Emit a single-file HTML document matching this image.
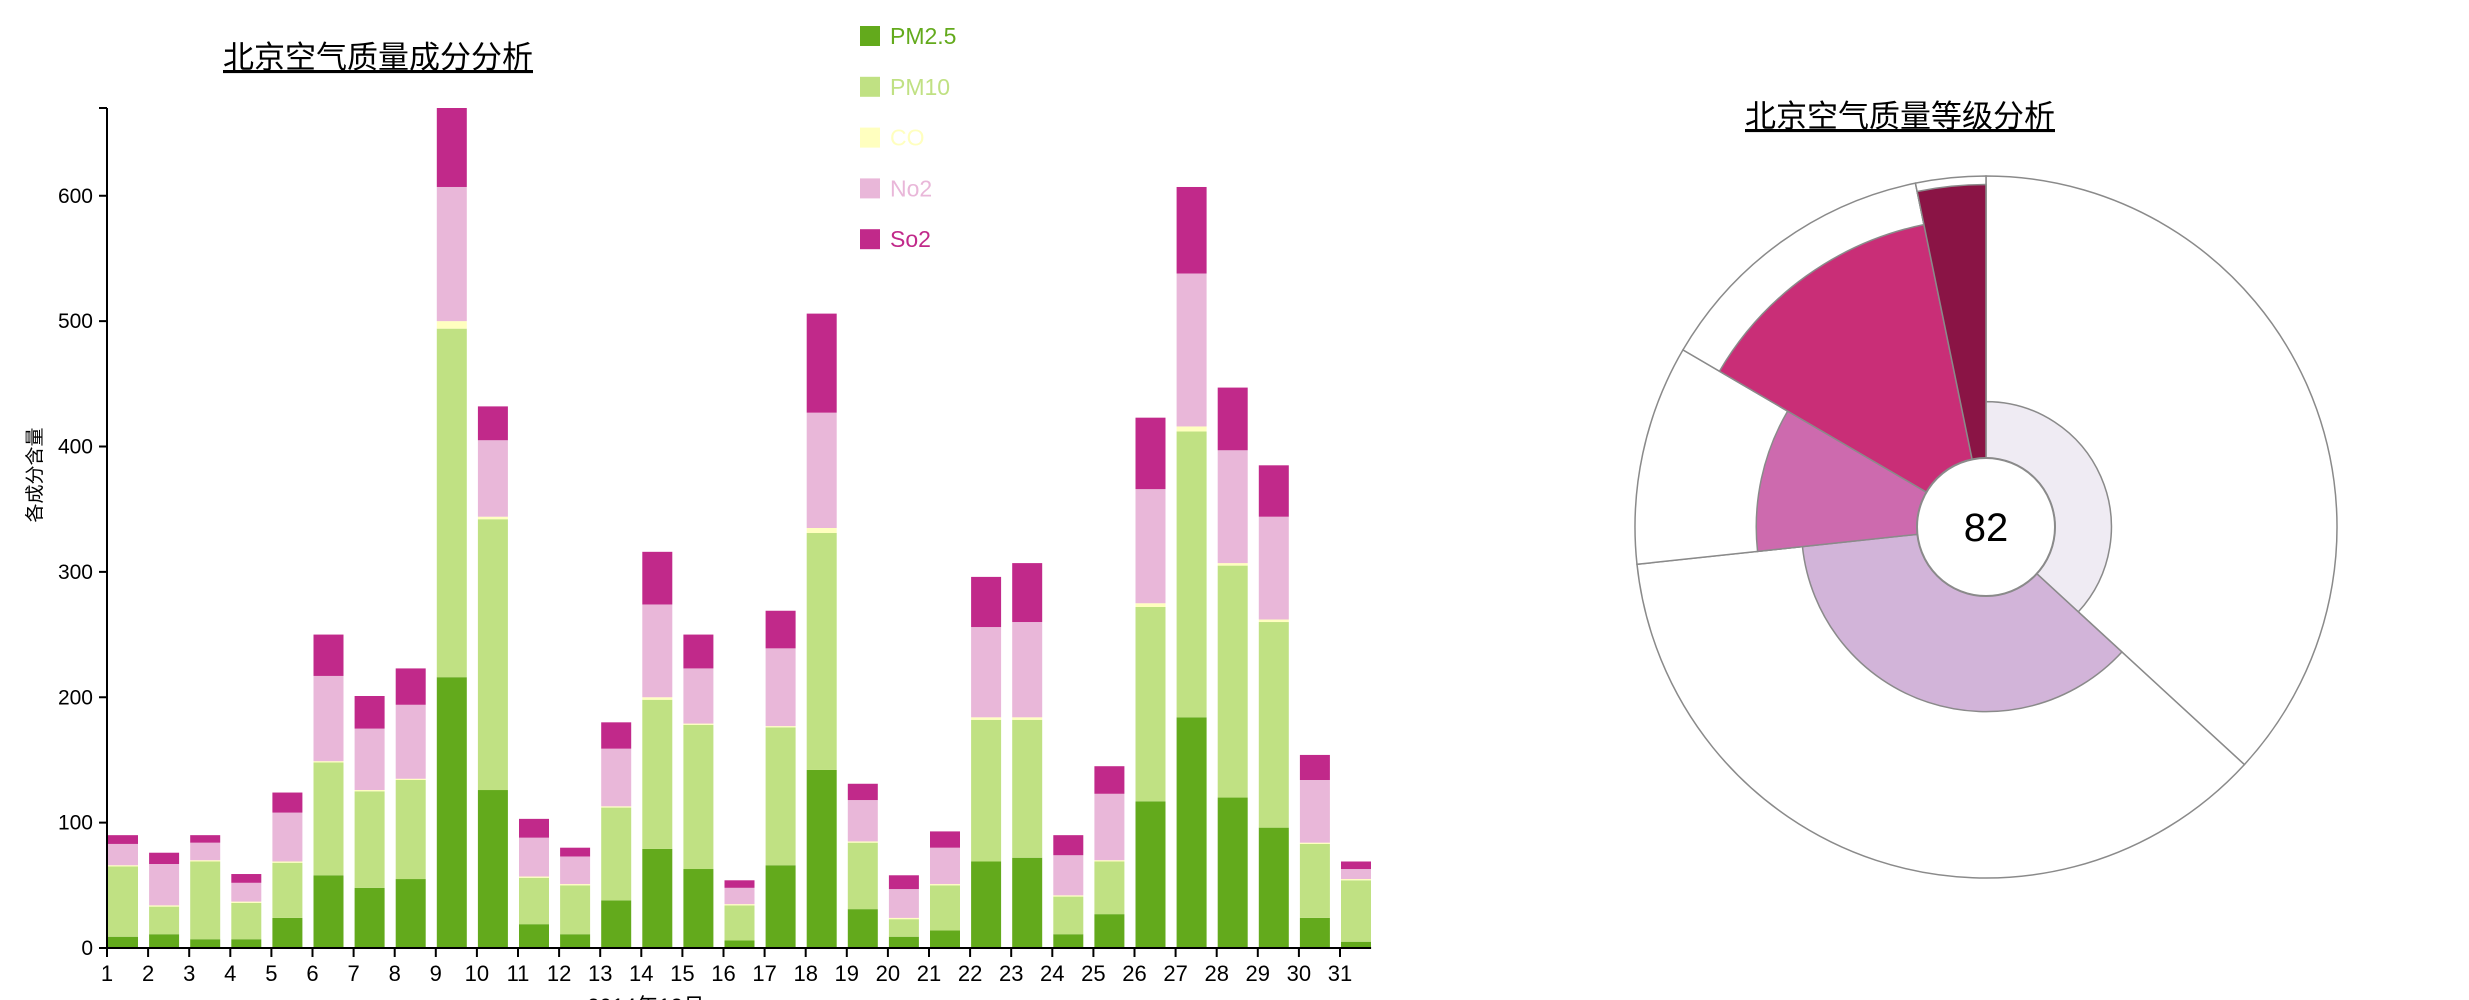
<!DOCTYPE html>
<html><head><meta charset="utf-8">
<style>
html,body{margin:0;padding:0;background:#fff;width:2469px;height:1000px;overflow:hidden;}
svg{position:absolute;left:0;top:0;font-family:"Liberation Sans","Noto Sans CJK SC",sans-serif;}
</style></head>
<body>
<svg id="chart" width="2469" height="1000" xmlns="http://www.w3.org/2000/svg">
  <text x="378" y="68" font-size="31" text-anchor="middle" fill="#000" text-decoration="underline">北京空气质量成分分析</text>
  <text x="1900" y="127" font-size="31" text-anchor="middle" fill="#000" text-decoration="underline">北京空气质量等级分析</text>
  <g id="bars"></g>
  <g id="axes"></g>
  <g id="legend"></g>
  <g id="pie"></g>
  <text transform="translate(41,475) rotate(-90)" font-size="19" text-anchor="middle" fill="#000">各成分含量</text>
  <text x="646" y="1014" font-size="22" text-anchor="middle" fill="#000">2014年12月</text>
</svg>
<script>
const days = ["1","2","3","4","5","6","7","8","9","10","11","12","13","14","15","16","17","18","19","20","21","22","23","24","25","26","27","28","29","30","31"];
const pm25 = [9,11,7,7,24,58,48,55,216,126,19,11,38,79,63,6,66,142,31,9,14,69,72,11,27,117,184,120,96,24,5];
const pm10 = [56,22,62,29,44,90,77,79,278,216,37,39,74,119,115,28,110,189,53,14,36,113,110,30,42,155,228,185,164,59,49];
const co   = [1,1,1,1,1,1,1,1,6,2,1,1,1,2,1,1,1,4,1,1,1,2,2,1,1,3,4,2,2,1,1];
const no2  = [17,33,14,15,39,68,49,59,107,61,31,22,46,74,44,13,62,92,33,23,29,72,76,32,53,91,122,90,82,50,8];
const so2  = [7,9,6,7,16,33,26,29,63,27,15,7,21,42,27,6,30,79,13,11,13,40,47,16,22,57,69,50,41,20,6];
const yTicks = [0,100,200,300,400,500,600];
const seriesNames = ["PM2.5","PM10","CO","No2","So2"];
const seriesColors = ["#63aa1c","#c0e183","#ffffbf","#e9b7d9","#c1298a"];

const gradeShares = [132.6,131.3,36.4,48.1,11.6];
const gradeLevels = [20,41,57,85,97];
const gradeColors = ["#efebf3","#d2b4d9","#cd6aae","#c92e77","#8a1445"];
const centerValue = "82";

const NS="http://www.w3.org/2000/svg";
function mk(tag,attrs,parent){const e=document.createElementNS(NS,tag);for(const k in attrs)e.setAttribute(k,attrs[k]);parent.appendChild(e);return e;}

const x0=107, band=41.1, barW=30, yBase=948, yTop=108;
const series=[pm25,pm10,co,no2,so2];
const totals=days.map((d,i)=>series.reduce((s,a)=>s+a[i],0));
const yMax=Math.max(...totals);
const yScale=v=>yBase-(v/yMax)*(yBase-yTop);
const xScale=i=>x0+i*band;

const gb=document.getElementById('bars');
days.forEach((d,i)=>{
  let acc=0;
  series.forEach((arr,s)=>{
    const y1=yScale(acc), y2=yScale(acc+arr[i]);
    const r=mk('rect',{x:xScale(i)+1,y:y2,width:barW,height:Math.max(0,y1-y2),fill:seriesColors[s]},gb);
    
    
    acc+=arr[i];
  });
});

const ga=document.getElementById('axes');
const yl=mk('line',{x1:x0,y1:yTop,x2:x0,y2:yBase,stroke:'#000','stroke-width':2},ga);


mk('line',{x1:x0-8,y1:yTop,x2:x0,y2:yTop,stroke:'#000','stroke-width':2},ga);
yTicks.forEach(t=>{
  const y=yScale(t);
  mk('line',{x1:x0-8,y1:y,x2:x0,y2:y,stroke:'#000','stroke-width':2},ga);
  const tx=mk('text',{x:x0-14,y:y+7,'font-size':21,'text-anchor':'end',fill:'#000'},ga);
  tx.textContent=t;
  
  
});
const xl=mk('line',{x1:x0-8,y1:yBase,x2:xScale(days.length)-10,y2:yBase,stroke:'#000','stroke-width':2},ga);


days.forEach((d,i)=>{
  const x=xScale(i);
  mk('line',{x1:x,y1:yBase,x2:x,y2:yBase+9,stroke:'#000','stroke-width':2},ga);
  const tx=mk('text',{x:x,y:yBase+33,'font-size':22,'text-anchor':'middle',fill:'#000'},ga);
  tx.textContent=d;
  
  
});

const gl=document.getElementById('legend');
seriesNames.forEach((n,s)=>{
  const cy=36+s*50.8;
  const r=mk('rect',{x:860,y:cy-10,width:20,height:20,fill:seriesColors[s]},gl);
  
  
  const t=mk('text',{x:890,y:cy+8,'font-size':23,fill:seriesColors[s]},gl);
  t.textContent=n;
  
  
});

const gp=document.getElementById('pie');
const cx=1986, cy=527, R=351, r0=69;
const totalShare=gradeShares.reduce((a,b)=>a+b,0);
function pt(a,r){return [cx+r*Math.sin(a),cy-r*Math.cos(a)];}
function arc(a1,a2,ri,ro){
  const large=(a2-a1)>Math.PI?1:0;
  const p1=pt(a1,ro),p2=pt(a2,ro),p3=pt(a2,ri),p4=pt(a1,ri);
  return `M${p1[0]},${p1[1]}A${ro},${ro} 0 ${large} 1 ${p2[0]},${p2[1]}L${p3[0]},${p3[1]}A${ri},${ri} 0 ${large} 0 ${p4[0]},${p4[1]}Z`;
}
let a=0;
const angles=gradeShares.map(v=>{const s=a;a+=v/totalShare*2*Math.PI;return [s,a];});
angles.forEach(([s,e],i)=>{
  const p=mk('path',{d:arc(s,e,r0,R),fill:'#fff',stroke:'#8a8a8a','stroke-width':1.5},gp);
  
  
});
angles.forEach(([s,e],i)=>{
  const ro=r0+(R-r0)*gradeLevels[i]/100;
  const p=mk('path',{d:arc(s,e,r0,ro),fill:gradeColors[i],stroke:'#8a8a8a','stroke-width':1.5},gp);
  
  
});
const c=mk('circle',{cx:cx,cy:cy,r:r0,fill:'#fff',stroke:'#8a8a8a','stroke-width':2},gp);


const ct=mk('text',{x:cx,y:cy+14,'font-size':40,'text-anchor':'middle',fill:'#000'},gp);
ct.textContent=centerValue;


</script>
</body></html>
